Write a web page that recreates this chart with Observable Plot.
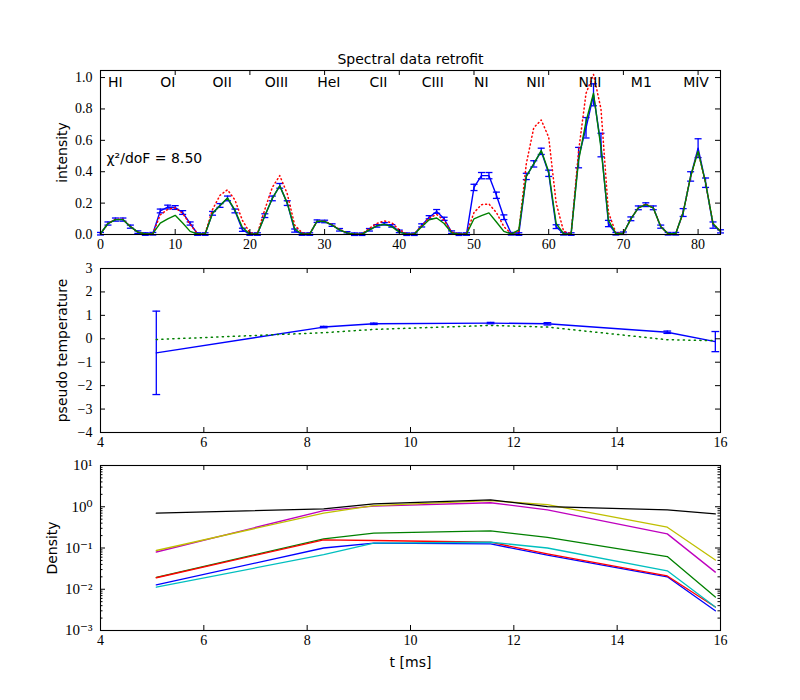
<!DOCTYPE html>
<html><head><meta charset="utf-8">
<script src="https://cdn.jsdelivr.net/npm/d3@7"></script>
<script src="https://cdn.jsdelivr.net/npm/@observablehq/plot@0.6"></script>
<style>
body{margin:0;background:#fff;}
#fig{position:relative;width:800px;height:700px;background:#fff;overflow:hidden;}
#fig svg{position:absolute;left:0;background:transparent;}
</style></head><body><div id="fig"></div>
<script>
// ---------- Panel 1: spectral data ----------
const lineLabels = ["HI","OI","OII","OIII","HeI","CII","CIII","NI","NII","NIII","M1","MIV"];
const channels = d3.range(84);
const measured = [
  0.005,0.07,0.095,0.095,0.05,0.015,0.003,
  0.005,0.15,0.175,0.172,0.14,0.07,0.003,
  0.003,0.135,0.185,0.23,0.15,0.03,0.003,
  0.003,0.12,0.23,0.31,0.2,0.025,0.003,
  0.003,0.085,0.083,0.06,0.03,0.01,0.002,
  0.002,0.03,0.055,0.068,0.055,0.02,0.002,
  0.002,0.058,0.11,0.147,0.1,0.015,0.002,
  0.003,0.3,0.375,0.375,0.25,0.11,0.005,
  0.003,0.37,0.45,0.53,0.39,0.05,0.005,
  0.003,0.49,0.68,0.89,0.57,0.07,0.005,
  0.008,0.1,0.17,0.19,0.17,0.05,0.005,
  0.005,0.14,0.37,0.55,0.33,0.06,0.02
];
const measuredErr = [
  0.008,0.01,0.01,0.01,0.01,0.008,0.008,
  0.008,0.012,0.012,0.012,0.012,0.01,0.008,
  0.008,0.012,0.012,0.015,0.012,0.01,0.008,
  0.008,0.012,0.015,0.015,0.015,0.01,0.008,
  0.008,0.008,0.008,0.008,0.008,0.008,0.008,
  0.008,0.008,0.008,0.008,0.008,0.008,0.008,
  0.008,0.01,0.01,0.012,0.01,0.008,0.008,
  0.008,0.02,0.02,0.02,0.02,0.015,0.008,
  0.008,0.02,0.02,0.02,0.02,0.012,0.008,
  0.008,0.065,0.065,0.07,0.075,0.02,0.008,
  0.008,0.012,0.012,0.012,0.012,0.01,0.008,
  0.008,0.025,0.03,0.06,0.03,0.02,0.01
];
const fitFull = [
  0.005,0.07,0.095,0.095,0.05,0.015,0.003,
  0.005,0.073,0.1,0.122,0.073,0.02,0.003,
  0.003,0.135,0.185,0.233,0.155,0.045,0.003,
  0.003,0.12,0.23,0.31,0.2,0.035,0.003,
  0.003,0.085,0.083,0.06,0.03,0.01,0.002,
  0.002,0.03,0.055,0.065,0.05,0.015,0.002,
  0.002,0.05,0.094,0.105,0.07,0.01,0.002,
  0.003,0.1,0.12,0.138,0.08,0.02,0.003,
  0.03,0.37,0.45,0.535,0.4,0.07,0.005,
  0.003,0.47,0.72,0.9,0.55,0.09,0.005,
  0.008,0.1,0.17,0.19,0.17,0.05,0.005,
  0.005,0.14,0.37,0.53,0.33,0.07,0.02
];
const fitAlt = [
  0.005,0.07,0.097,0.097,0.05,0.015,0.003,
  0.005,0.125,0.16,0.17,0.135,0.065,0.005,
  0.005,0.16,0.25,0.285,0.22,0.09,0.01,
  0.005,0.16,0.3,0.375,0.26,0.06,0.01,
  0.004,0.085,0.085,0.062,0.032,0.01,0.002,
  0.003,0.04,0.07,0.087,0.075,0.03,0.003,
  0.003,0.055,0.105,0.128,0.09,0.015,0.003,
  0.005,0.14,0.19,0.195,0.14,0.05,0.005,
  0.02,0.45,0.68,0.73,0.62,0.2,0.02,
  0.005,0.53,0.9,1.02,0.8,0.14,0.01,
  0.008,0.1,0.17,0.195,0.17,0.05,0.005,
  0.005,0.14,0.37,0.53,0.33,0.07,0.02
];
const chi2Label = "χ²/doF = 8.50";
const spectralXTicks = [0,10,20,30,40,50,60,70,80];
const spectralYTicks = [0,0.2,0.4,0.6,0.8,1.0];

// ---------- Panel 2: pseudo temperature ----------
const times = [5.08, 8.32, 9.29, 11.55, 12.65, 14.97, 15.9];
const tempMeasured = [-0.6, 0.5, 0.64, 0.67, 0.64, 0.28, -0.12];
const tempErr = [1.78, 0.03, 0.03, 0.03, 0.05, 0.05, 0.43];
const tempModel = [-0.03, 0.26, 0.4, 0.57, 0.5, -0.04, -0.08];
const timeTicks = [4,6,8,10,12,14,16];
const tempTicks = [-4,-3,-2,-1,0,1,2,3];

// ---------- Panel 3: densities ----------
const densBlue    = [0.0128, 0.1, 0.132, 0.126, 0.067, 0.02, 0.003];
const densGreen   = [0.0195, 0.166, 0.23, 0.26, 0.18, 0.062, 0.0065];
const densRed     = [0.019, 0.158, 0.152, 0.138, 0.072, 0.021, 0.0037];
const densCyan    = [0.0112, 0.069, 0.132, 0.138, 0.1, 0.028, 0.0037];
const densMagenta = [0.08, 0.81, 1.03, 1.25, 0.84, 0.22, 0.026];
const densYellow  = [0.087, 0.7, 1.07, 1.4, 1.13, 0.32, 0.051];
const densBlack   = [0.70, 0.89, 1.17, 1.47, 1.01, 0.84, 0.67];
const densTicks = [1e-3, 1e-2, 1e-1, 1, 10];
const densTickLabels = ["10⁻³","10⁻²","10⁻¹","10⁰","10¹"];

// ---------- styling ----------
const serif = "'Liberation Serif','DejaVu Serif',serif";
const sans = "'DejaVu Sans','Bitstream Vera Sans',sans-serif";
const C = {b:"#0000ff", g:"#008000", r:"#ff0000", c:"#00bfbf", m:"#bf00bf", y:"#bfbf00", k:"#000000"};
const W = 800, ML = 100, MR = 80, FW = W - ML - MR;
const baseStyle = {fontFamily: serif, fontSize: "14px", background: "transparent", overflow: "visible", color: "black"};

function inwardTicks(xt, yt, fh, opts = {}) {
  const L = 5, l = 2.5;
  const marks = [
    Plot.tickX(xt, {x: d => d, insetTop: fh - L, stroke: "black", strokeWidth: 1}),
    Plot.tickX(xt, {x: d => d, insetBottom: fh - L, stroke: "black", strokeWidth: 1}),
    Plot.tickY(yt, {y: d => d, insetRight: FW - L, stroke: "black", strokeWidth: 1}),
    Plot.tickY(yt, {y: d => d, insetLeft: FW - L, stroke: "black", strokeWidth: 1})
  ];
  if (opts.yMinor) {
    marks.push(Plot.tickY(opts.yMinor, {y: d => d, insetRight: FW - l, stroke: "black", strokeWidth: 1}));
    marks.push(Plot.tickY(opts.yMinor, {y: d => d, insetLeft: FW - l, stroke: "black", strokeWidth: 1}));
  }
  return marks;
}

// error bars: vertical rule + two caps (caps drawn as short links, half-width given in x units)
function errorBars(index, xv, yv, ev, capHalf) {
  return [
    Plot.ruleX(index, {x: i => xv(i), y1: i => yv(i) - ev(i), y2: i => yv(i) + ev(i), stroke: C.b, strokeWidth: 1.3}),
    Plot.link(index, {x1: i => xv(i) - capHalf, x2: i => xv(i) + capHalf, y1: i => yv(i) - ev(i), y2: i => yv(i) - ev(i), stroke: C.b, strokeWidth: 1.3}),
    Plot.link(index, {x1: i => xv(i) - capHalf, x2: i => xv(i) + capHalf, y1: i => yv(i) + ev(i), y2: i => yv(i) + ev(i), stroke: C.b, strokeWidth: 1.3})
  ];
}

const fig = document.getElementById("fig");
function place(svg, top) { svg.style.position = "absolute"; svg.style.top = top + "px"; svg.style.left = "0px"; fig.appendChild(svg); }
const ylab = (txt, dx) => Plot.text([txt], {frameAnchor: "left", rotate: -90, dx, textAnchor: "middle", lineAnchor: "middle", fontFamily: sans, fontSize: 14});

// Panel 1
const p1H = 260, p1Top = 70, p1Bottom = 26, p1FH = p1H - p1Top - p1Bottom;
const p1 = Plot.plot({
  width: W, height: p1H, marginTop: p1Top, marginBottom: p1Bottom, marginLeft: ML, marginRight: MR,
  x: {domain: [0, 83]}, y: {domain: [0, 1.045]},
  style: baseStyle,
  marks: [
    ...errorBars(channels, i => i, i => measured[i], i => measuredErr[i], 0.47),
    Plot.line(channels, {x: i => i, y: i => measured[i], stroke: C.b, strokeWidth: 1.4}),
    Plot.line(channels, {x: i => i, y: i => fitAlt[i], stroke: C.r, strokeWidth: 1.5, strokeDasharray: "1,3"}),
    Plot.line(channels, {x: i => i, y: i => fitFull[i], stroke: C.g, strokeWidth: 1.4}),
    Plot.frame({stroke: "black", strokeWidth: 1.1}),
    ...inwardTicks(spectralXTicks, spectralYTicks, p1FH),
    Plot.axisX({ticks: spectralXTicks, tickSize: 0, tickPadding: 5, label: null, fontFamily: serif, fontSize: 14}),
    Plot.axisY({ticks: spectralYTicks, tickSize: 0, tickPadding: 8, label: null, tickFormat: d3.format(".1f"), fontFamily: serif, fontSize: 14}),
    Plot.text(lineLabels, {x: (d, i) => 7 * i + 1, frameAnchor: "top", dy: 12, textAnchor: "start", lineAnchor: "middle", fontFamily: sans, fontSize: 14}),
    Plot.text(["Spectral data retrofit"], {frameAnchor: "top", dy: -11, textAnchor: "middle", lineAnchor: "middle", fontFamily: sans, fontSize: 14}),
    ylab("intensity", -38),
    Plot.text([chi2Label], {frameAnchor: "left", dx: 6, dy: 6, textAnchor: "start", lineAnchor: "middle", fontFamily: sans, fontSize: 14})
  ]
});
place(p1, 0);

// Panel 2
const p2H = 210, p2Top = 18, p2Bottom = 28, p2FH = p2H - p2Top - p2Bottom;
const idx7 = d3.range(times.length);
const p2 = Plot.plot({
  width: W, height: p2H, marginTop: p2Top, marginBottom: p2Bottom, marginLeft: ML, marginRight: MR,
  x: {domain: [4, 16]}, y: {domain: [-4, 3]},
  style: baseStyle,
  marks: [
    ...errorBars(idx7, i => times[i], i => tempMeasured[i], i => tempErr[i], 0.075),
    Plot.line(idx7, {x: i => times[i], y: i => tempMeasured[i], stroke: C.b, strokeWidth: 1.4}),
    Plot.line(idx7, {x: i => times[i], y: i => tempModel[i], stroke: C.g, strokeWidth: 1.5, strokeDasharray: "1.2,4.3"}),
    Plot.frame({stroke: "black", strokeWidth: 1.1}),
    ...inwardTicks(timeTicks, tempTicks, p2FH),
    Plot.axisX({ticks: timeTicks, tickSize: 0, tickPadding: 5, label: null, fontFamily: serif, fontSize: 14}),
    Plot.axisY({ticks: tempTicks, tickSize: 0, tickPadding: 8, label: null, tickFormat: d => d < 0 ? "−" + Math.abs(d) : String(d), fontFamily: serif, fontSize: 14}),
    ylab("pseudo temperature", -38)
  ]
});
place(p2, 250);

// Panel 3
const p3H = 250, p3Top = 15, p3Bottom = 70, p3FH = p3H - p3Top - p3Bottom;
const minorLog = [];
for (const e of [-3, -2, -1, 0]) for (let m = 2; m <= 9; m++) minorLog.push(m * Math.pow(10, e));
const densSeries = [
  [densBlue, C.b], [densGreen, C.g], [densRed, C.r], [densCyan, C.c],
  [densMagenta, C.m], [densYellow, C.y], [densBlack, C.k]
];
const p3 = Plot.plot({
  width: W, height: p3H, marginTop: p3Top, marginBottom: p3Bottom, marginLeft: ML, marginRight: MR,
  x: {domain: [4, 16]}, y: {type: "log", domain: [1e-3, 10]},
  style: baseStyle,
  marks: [
    ...densSeries.map(([vals, col]) => Plot.line(idx7, {x: i => times[i], y: i => vals[i], stroke: col, strokeWidth: 1.3})),
    Plot.frame({stroke: "black", strokeWidth: 1.1}),
    ...inwardTicks(timeTicks, densTicks, p3FH, {yMinor: minorLog}),
    Plot.axisX({ticks: timeTicks, tickSize: 0, tickPadding: 5, label: null, fontFamily: serif, fontSize: 14}),
    Plot.axisY({ticks: densTicks, tickSize: 0, tickPadding: 8, label: null, tickFormat: d => densTickLabels[densTicks.indexOf(d)], fontFamily: serif, fontSize: 15}),
    ylab("Density", -48),
    Plot.text(["t [ms]"], {frameAnchor: "bottom", dy: 32, textAnchor: "middle", lineAnchor: "middle", fontFamily: sans, fontSize: 14})
  ]
});
place(p3, 450);
</script></body></html>
